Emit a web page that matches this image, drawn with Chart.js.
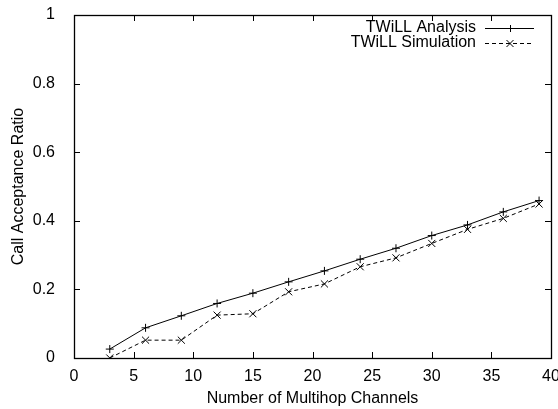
<!DOCTYPE html>
<html>
<head>
<meta charset="utf-8">
<script src="https://cdn.jsdelivr.net/npm/chart.js@4/dist/chart.umd.min.js"></script>
<style>
  html, body { margin: 0; padding: 0; background: #fff; }
  #wrap { width: 558px; height: 409px; }
</style>
</head>
<body>
<div id="wrap"><canvas id="c" width="558" height="409"></canvas></div>
<script>
// channels on the x axis
const channels = [3, 6, 9, 12, 15, 18, 21, 24, 27, 30, 33, 36, 39];
// call acceptance ratio
const analysis = [0.026, 0.088, 0.123, 0.159, 0.189, 0.222, 0.254, 0.288, 0.320, 0.357, 0.388, 0.426, 0.459];
const simulation = [0.000, 0.052, 0.052, 0.125, 0.129, 0.193, 0.216, 0.266, 0.292, 0.334, 0.375, 0.407, 0.449];
const xTicks = [0, 5, 10, 15, 20, 25, 30, 35, 40];
const yTicks = [0, 0.2, 0.4, 0.6, 0.8, 1];
const seriesNames = ['TWiLL Analysis', 'TWiLL Simulation'];

const FONT = 'Liberation Sans, Arial, Helvetica, sans-serif';
const FS = 16;

function pts(ys) {
  return channels.map((x, i) => ({ x, y: ys[i] }));
}

// gnuplot-like frame with inward ticks on all four sides, plus the key
const framePlugin = {
  id: 'frame',
  afterDatasetsDraw(chart) {
    const { ctx, chartArea: a, scales } = chart;
    const tl = 6;
    ctx.save();
    ctx.strokeStyle = '#000';
    ctx.lineWidth = 1;
    ctx.beginPath();
    xTicks.forEach(v => {
      const px = Math.round(scales.x.getPixelForValue(v)) + 0.5;
      ctx.moveTo(px, a.bottom); ctx.lineTo(px, a.bottom - tl);
      ctx.moveTo(px, a.top); ctx.lineTo(px, a.top + tl);
    });
    yTicks.forEach(v => {
      const py = Math.round(scales.y.getPixelForValue(v)) + 0.5;
      ctx.moveTo(a.left, py); ctx.lineTo(a.left + tl, py);
      ctx.moveTo(a.right, py); ctx.lineTo(a.right - tl, py);
    });
    ctx.stroke();
    ctx.lineWidth = 1.3;
    ctx.strokeRect(Math.round(a.left) + 0.5, Math.round(a.top) + 0.5,
      Math.round(a.right - a.left), Math.round(a.bottom - a.top));

    // key
    ctx.font = FS + 'px ' + FONT;
    ctx.fillStyle = '#000';
    ctx.textAlign = 'right';
    ctx.textBaseline = 'middle';
    const textRight = a.right - 75;
    const sx0 = a.right - 66, sx1 = a.right - 17;
    const rows = [a.top + 13, a.top + 28];
    chart.data.datasets.forEach((ds, i) => {
      const y = rows[i];
      ctx.fillText(ds.label, textRight, y);
      ctx.lineWidth = 1;
      ctx.setLineDash(ds.borderDash || []);
      ctx.beginPath();
      ctx.moveTo(sx0, y + 0.5); ctx.lineTo(sx1, y + 0.5);
      ctx.stroke();
      ctx.setLineDash([]);
      const cx = Math.round((sx0 + sx1) / 2);
      ctx.beginPath();
      if (ds.pointStyle === 'cross') {
        ctx.moveTo(cx - 3.5, y + 0.5); ctx.lineTo(cx + 3.5, y + 0.5);
        ctx.moveTo(cx + 0.5, y - 3); ctx.lineTo(cx + 0.5, y + 4);
      } else {
        ctx.moveTo(cx - 3.5, y - 3); ctx.lineTo(cx + 3.5, y + 4);
        ctx.moveTo(cx + 3.5, y - 3); ctx.lineTo(cx - 3.5, y + 4);
      }
      ctx.stroke();
    });
    ctx.restore();
  }
};

new Chart(document.getElementById('c'), {
  type: 'line',
  data: {
    datasets: [
      {
        label: seriesNames[0],
        data: pts(analysis),
        borderColor: '#000',
        backgroundColor: '#000',
        borderWidth: 1,
        pointStyle: 'cross',
        pointRadius: 4,
        pointBorderWidth: 1,
        pointBorderColor: '#000',
        tension: 0
      },
      {
        label: seriesNames[1],
        data: pts(simulation),
        borderColor: '#000',
        backgroundColor: '#000',
        borderWidth: 1,
        borderDash: [4, 3],
        pointStyle: 'crossRot',
        pointRadius: 5,
        pointBorderWidth: 1,
        pointBorderColor: '#000',
        tension: 0
      }
    ]
  },
  options: {
    responsive: false,
    animation: false,
    layout: { padding: { top: 15, right: 7, left: 0, bottom: 0 } },
    plugins: {
      legend: { display: false },
      tooltip: { enabled: false }
    },
    scales: {
      x: {
        type: 'linear',
        min: 0, max: 40,
        afterFit: s => { s.height = 51; s.paddingLeft = 0; s.paddingRight = 0; },
        afterBuildTicks: s => { s.ticks = xTicks.map(v => ({ value: v })); },
        grid: { display: false },
        border: { display: false },
        ticks: { color: '#000', padding: 1, font: { family: FONT, size: FS }, maxRotation: 0 },
        title: {
          display: true, text: 'Number of Multihop Channels', color: '#000',
          font: { family: FONT, size: FS }, padding: { top: 0, bottom: 0.5 }
        }
      },
      y: {
        min: 0, max: 1,
        afterFit: s => { s.width = 74; s.paddingTop = 0; s.paddingBottom = 0; },
        afterBuildTicks: s => { s.ticks = yTicks.map(v => ({ value: v })); },
        grid: { display: false },
        border: { display: false },
        ticks: {
          color: '#000', padding: 11, font: { family: FONT, size: FS },
          callback: v => String(+v.toFixed(1))
        },
        title: {
          display: true, text: 'Call Acceptance Ratio', color: '#000',
          font: { family: FONT, size: FS }, padding: { top: 8.5, bottom: 0 }
        }
      }
    }
  },
  plugins: [framePlugin]
});
</script>
</body>
</html>
